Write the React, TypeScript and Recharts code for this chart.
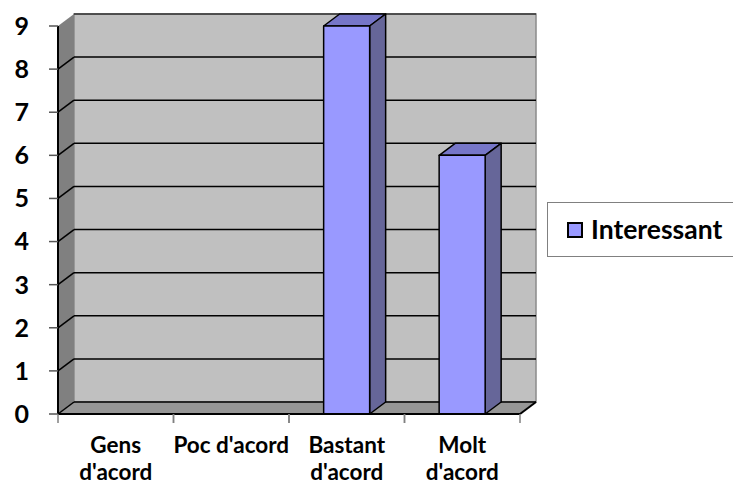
import { BarChart, Bar, XAxis, YAxis, CartesianGrid, Legend, usePlotArea } from "recharts";

const categories = ["Gens d'acord", "Poc d'acord", "Bastant d'acord", "Molt d'acord"];
const categoryLines = [["Gens", "d'acord"], ["Poc d'acord"], ["Bastant", "d'acord"], ["Molt", "d'acord"]];
const interessant = [0, 0, 9, 6];
const yTicks = [0, 1, 2, 3, 4, 5, 6, 7, 8, 9];
const seriesName = "Interessant";

const data = categories.map((name, i) => ({ name, interessant: interessant[i] }));

// depth offset of the fake 3D
const DX = 16;
const DY = 12;
const FONT = "Lato, 'Liberation Sans', sans-serif";

// back wall, side wall and floor, drawn from the plot area
function Walls() {
  const area = usePlotArea();
  if (!area) return null;
  const { x, y, width, height } = area;
  const r = x + width;
  const b = y + height;
  return (
    <g>
      <polygon
        points={`${x + DX},${y - DY} ${r + DX},${y - DY} ${r + DX},${b - DY} ${x + DX},${b - DY}`}
        fill="#c0c0c0"
        stroke="#8a8a8a"
        strokeWidth={1.5}
      />
      <polygon points={`${x},${y} ${x + DX},${y - DY} ${x + DX},${b - DY} ${x},${b}`} fill="#808080" />
      <polygon points={`${x},${b} ${x + DX},${b - DY} ${r + DX},${b - DY} ${r},${b}`} fill="#969696" />
      <line x1={r} y1={b} x2={r + DX} y2={b - DY} stroke="#000" strokeWidth={2} />
    </g>
  );
}

function GridLine(props: any) {
  const { x1, y1, x2, index } = props;
  const top = index === yTicks.length - 1;
  const color = top ? "#333" : "#000";
  return (
    <g>
      {index === 0 && <Walls />}
      {!top && <line x1={x1} y1={y1} x2={x1 + DX} y2={y1 - DY} stroke={color} strokeWidth={1.5} />}
      <line x1={x1 + DX} y1={y1 - DY} x2={x2 + DX} y2={y1 - DY} stroke={color} strokeWidth={1.5} />
    </g>
  );
}

function Bar3D(props: any) {
  const { x, y, width, height } = props;
  if (!height || height <= 0) return null;
  const r = x + width;
  const b = y + height;
  return (
    <g stroke="#000" strokeWidth={1.5} strokeLinejoin="round">
      <polygon points={`${x},${y} ${x + DX},${y - DY} ${r + DX},${y - DY} ${r},${y}`} fill="#7676c8" />
      <polygon points={`${r},${y} ${r + DX},${y - DY} ${r + DX},${b - DY} ${r},${b}`} fill="#666699" />
      <rect x={x} y={y} width={width} height={height} fill="#9999ff" />
    </g>
  );
}

function XTick(props: any) {
  const { x, y, payload, index } = props;
  const half = payload?.offset ?? 0;
  const lines = categoryLines[index] ?? [payload.value];
  return (
    <g>
      <line x1={x - half} y1={y} x2={x - half} y2={y + 9} stroke="#808080" strokeWidth={1.5} />
      <line x1={x + half} y1={y} x2={x + half} y2={y + 9} stroke="#808080" strokeWidth={1.5} />
      {lines.map((t: string, i: number) => (
        <text
          key={i}
          x={x}
          y={y + 39 + i * 27}
          textAnchor="middle"
          fontFamily={FONT}
          fontWeight={700}
          fontSize={22.5}
          fill="#000"
        >
          {t}
        </text>
      ))}
    </g>
  );
}

function LegendBox() {
  return (
    <div
      style={{
        boxSizing: "border-box",
        width: 186,
        height: 55,
        border: "1px solid #808080",
        borderRight: "none",
        background: "#fff",
        display: "flex",
        alignItems: "center",
        paddingLeft: 19,
        fontFamily: FONT,
        fontWeight: 700,
        fontSize: 26.5,
        color: "#000",
        lineHeight: 1,
      }}
    >
      <span
        style={{
          display: "inline-block",
          boxSizing: "border-box",
          width: 16,
          height: 16,
          background: "#9999ff",
          border: "2px solid #000",
          marginRight: 8,
        }}
      />
      {seriesName}
    </div>
  );
}

export default function App() {
  return (
    <div style={{ position: "absolute", left: 0, top: 0, width: 733, height: 484, background: "#fff" }}>
      <BarChart
        width={733}
        height={484}
        data={data}
        margin={{ top: 26, right: 213, left: 0, bottom: 0 }}
        barCategoryGap="30%"
      >
        <CartesianGrid vertical={false} horizontal={(p: any) => <GridLine {...p} />} fill="none" />
        <XAxis
          dataKey="name"
          height={70}
          axisLine={{ stroke: "#000", strokeWidth: 2 }}
          tickLine={false}
          tickSize={0}
          tickMargin={0}
          interval={0}
          tick={<XTick />}
        />
        <YAxis
          width={58}
          domain={[0, 9]}
          ticks={yTicks}
          interval={0}
          axisLine={{ stroke: "#000", strokeWidth: 2 }}
          tickLine={{ stroke: "#555", strokeWidth: 1.5 }}
          tickSize={9}
          tickMargin={20}
          tick={{ fontFamily: FONT, fontWeight: 700, fontSize: 25, fill: "#000" }}
        />
        <Bar dataKey="interessant" name={seriesName} shape={<Bar3D />} isAnimationActive={false} />
        <Legend
          layout="horizontal"
          align="center"
          verticalAlign="middle"
          content={<LegendBox />}
          wrapperStyle={{ position: "absolute", left: 547, top: 202, width: 186, height: 55 }}
        />
      </BarChart>
    </div>
  );
}
